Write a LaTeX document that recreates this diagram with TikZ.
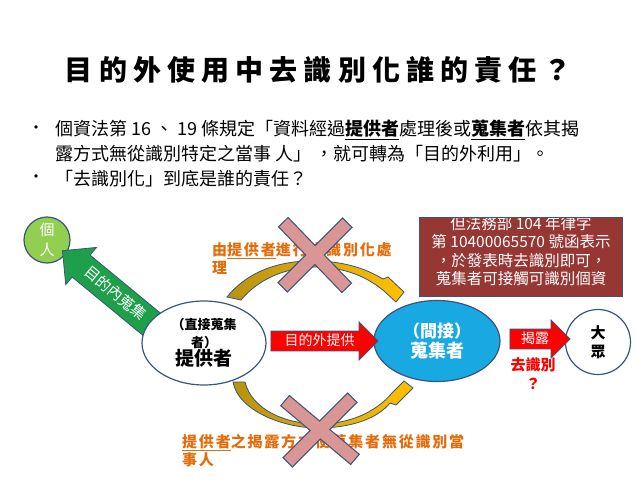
\documentclass[tikz,border=0pt]{standalone}
\usepackage{fontspec}
\setmainfont{Noto Sans CJK TC}
\usetikzlibrary{shapes.geometric,shapes.arrows}
\definecolor{outline}{RGB}{56,86,122}
\definecolor{personGreen}{RGB}{146,206,80}
\definecolor{arrowGreen}{RGB}{30,160,75}
\definecolor{boxRed}{RGB}{150,55,52}
\definecolor{noteOrange}{RGB}{228,108,10}
\definecolor{crossPink}{RGB}{217,150,148}
\definecolor{collectorBlue}{RGB}{24,168,226}
\definecolor{bandDark}{RGB}{184,146,16}
\definecolor{bandLight}{RGB}{255,192,0}
\tikzstyle{party}=[ellipse,draw=outline,line width=1.2pt,inner sep=0pt,align=center]
\tikzstyle{blockarrow}=[single arrow,draw=outline,line width=0.8pt,text=white,single arrow head extend=9pt,inner sep=3pt,text height=11pt,text depth=2pt,font=\fontsize{14}{14}\selectfont]
\tikzstyle{band}=[draw=outline,line width=0.8pt,left color=bandDark,right color=bandLight]
\tikzstyle{note}=[anchor=north west,inner sep=0pt,align=left,text=noteOrange,font=\bfseries\fontsize{15}{18}\selectfont\addfontfeature{LetterSpace=12}]
\tikzstyle{crossarm}=[rectangle,minimum width=90pt,minimum height=12pt,inner sep=0pt]

\begin{document}
\begin{tikzpicture}[x=1pt,y=-1pt]
    \useasboundingbox (0,0) rectangle (638,479);
    \tikzstyle{bulletmark}=[font=\fontsize{16}{16}\selectfont,inner sep=0pt]
    \tikzstyle{bulletline}=[font=\fontsize{18}{18}\selectfont,inner sep=0pt,anchor=west]
    \node (title) at (318,70) {\bfseries\fontsize{28}{28}\selectfont\addfontfeature{LetterSpace=22}目的外使用中去識別化誰的責任？};
    \node[bulletmark] (b1) at (36,130) {•};
    \node[bulletline] (l1) at (55,130) {個資法第 16 、 19 條規定「資料經過{\bfseries\underline{提供者}}處理後或{\bfseries\underline{蒐集者}}依其揭};
    \node[bulletline] (l2) at (55,154) {露方式無從識別特定之當事 人」 ，就可轉為「目的外利用」。};
    \node[bulletmark] (b2) at (36,179) {•};
    \node[bulletline] (l3) at (55,179) {「去識別化」到底是誰的責任？};
    % curved bands between the parties
    \path[band] (227,297) .. controls (252,266) and (290,260) .. (318,261) .. controls (348,262) and (368,270) .. (383,279) -- (388,277) -- (404,292) -- (396,302) -- (384,291) .. controls (366,276) and (345,268) .. (318,267) .. controls (292,267) and (262,275) .. (241,300) -- cycle;
    \path[band] (233,382) .. controls (238,410) and (282,428) .. (318,428) .. controls (352,428) and (378,418) .. (390,403) -- (396,405) -- (413,388) -- (404,381) -- (392,393) .. controls (376,412) and (350,424) .. (318,424) .. controls (286,424) and (252,410) .. (245,382) -- cycle;
    \node[circle,draw=outline,line width=1.2pt,fill=personGreen,minimum size=46pt,inner sep=0pt,align=center,text=white,font=\fontsize{15}{20}\selectfont] (person) at (47,240) {個\\人};
    \node[single arrow,shape border rotate=180,rotate=-39.5,draw=outline,line width=0.8pt,fill=arrowGreen,text=white,inner sep=6.5pt,text height=12pt,text depth=2.5pt,single arrow head extend=10pt,minimum height=122pt,font=\fontsize{15}{15}\selectfont] (inward) at (115,294) {目的內蒐集};
    \node[party,fill=white,minimum width=124pt,minimum height=84pt,font=\bfseries\fontsize{13}{17.5}\selectfont] (provider) at (204,343) {（直接蒐集\\者）\\{\fontsize{19}{17.5}\selectfont 提供者}};
    \node[party,fill=collectorBlue,text=white,minimum width=126pt,minimum height=81pt,font=\bfseries\fontsize{17}{20}\selectfont] (collector) at (437,341) {（間接）\\{\fontsize{18}{20}\selectfont 蒐集者}};
    \node[circle,draw=outline,line width=1.2pt,minimum size=65pt,inner sep=0pt,align=center,font=\bfseries\fontsize{15}{19}\selectfont] (public) at (598,342) {大\\眾};
    \node[blockarrow,fill=red,minimum height=107pt] (outside) at (319.5,341) {目的外提供};
    \node[blockarrow,fill=red,minimum height=60pt] (disclose) at (535,339) {揭露};
    \node[align=center,text=red,font=\bfseries\fontsize{15}{19}\selectfont] (deid) at (533,374) {去識別\\？};
    % ruling box, first line cut off by its top edge
    \node[rectangle,fill=boxRed,minimum width=202pt,minimum height=78pt,inner sep=0pt] (ruling) at (521,257) {};
    \begin{scope}
      \clip (ruling.south west) rectangle (ruling.north east);
      \node[align=center,text=white,font=\fontsize{15.5}{18.5}\selectfont] (rulingtext) at (521,251) {但法務部 104 年律字\\第 10400065570 號函表示\\，於發表時去識別即可，\\蒐集者可接觸可識別個資};
    \end{scope}
    \draw[outline,line width=0.8pt] (ruling.south west) rectangle (ruling.north east);
    \node[note] (upnote) at (212,242.5) {由\underline{提供者}進行去識別化處\\理};
    \node[note] (downnote) at (182,434.5) {\underline{提供者}之揭露方式使蒐集者無從識別當\\事人};
    \foreach \cx/\cy/\ra/\rb/\nm in {315/255/45/-46/up, 320/430/45/-40/down} {
      \foreach \r/\k in {\ra/a,\rb/b}
        \node[crossarm,draw=outline,line width=2.4pt,rotate=\r] (\nm-\k) at (\cx,\cy) {};
      \foreach \r/\k in {\ra/a,\rb/b}
        \node[crossarm,fill=crossPink,rotate=\r] (\nm-\k-in) at (\cx,\cy) {};
    }
\end{tikzpicture}
\end{document}
